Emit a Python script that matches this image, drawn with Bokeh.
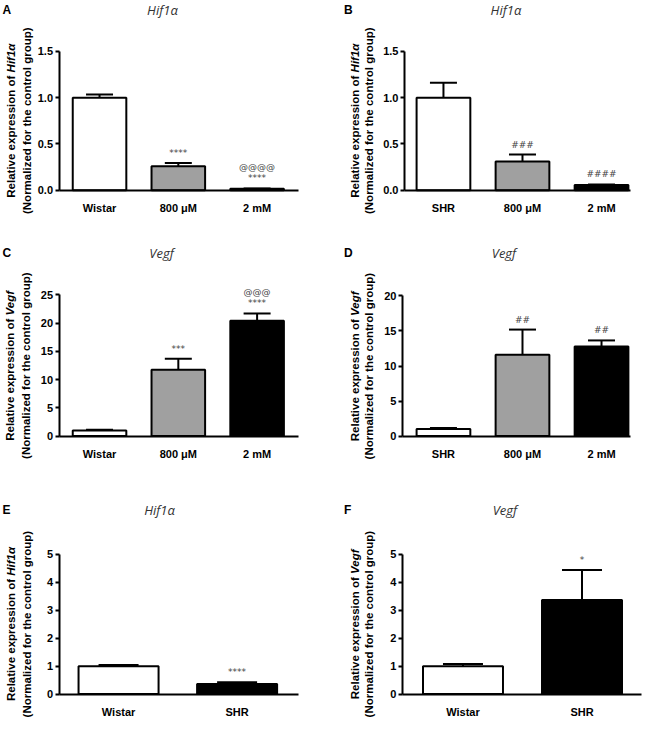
import numpy as np
from bokeh.plotting import figure
from bokeh.layouts import column, row
from bokeh.models import (Range1d, FixedTicker, Label, Whisker, TeeHead,
                          ColumnDataSource, PrintfTickFormatter)
from bokeh.embed import file_html
from bokeh.resources import INLINE

# ---------------- data ----------------
A_categories = ["Wistar", "800 \u03bcM", "2 mM"]
A_means = [1.0, 0.26, 0.015]
A_sems = [0.035, 0.035, 0.004]
A_sig_lower = ["", "****", "****"]
A_sig_upper = ["", "", "@@@@"]
A_ticks = [0.0, 0.5, 1.0, 1.5]

B_categories = ["SHR", "800 \u03bcM", "2 mM"]
B_means = [1.0, 0.31, 0.055]
B_sems = [0.16, 0.075, 0.008]
B_sig_lower = ["", "###", "####"]
B_sig_upper = ["", "", ""]
B_ticks = [0.0, 0.5, 1.0, 1.5]

C_categories = ["Wistar", "800 \u03bcM", "2 mM"]
C_means = [1.0, 11.75, 20.45]
C_sems = [0.12, 1.95, 1.27]
C_sig_lower = ["", "***", "****"]
C_sig_upper = ["", "", "@@@"]
C_ticks = [0, 5, 10, 15, 20, 25]

D_categories = ["SHR", "800 \u03bcM", "2 mM"]
D_means = [1.0, 11.6, 12.8]
D_sems = [0.15, 3.6, 0.85]
D_sig_lower = ["", "##", "##"]
D_sig_upper = ["", "", ""]
D_ticks = [0, 5, 10, 15, 20]

E_categories = ["Wistar", "SHR"]
E_means = [1.0, 0.36]
E_sems = [0.04, 0.06]
E_sig_lower = ["", "****"]
E_sig_upper = ["", ""]
E_ticks = [0, 1, 2, 3, 4, 5]

F_categories = ["Wistar", "SHR"]
F_means = [1.0, 3.37]
F_sems = [0.08, 1.07]
F_sig_lower = ["", "*"]
F_sig_upper = ["", ""]
F_ticks = [0, 1, 2, 3, 4, 5]

three_colors = ["white", "#a0a0a0", "black"]
two_colors = ["white", "black"]

# ---------------- styling / layout ----------------
SX = 642 / 658
SY = 718 / 734
LABEL_FONT = "Liberation Sans"
TITLE_FONT = "Open Sans"
SIG_FONT = "DejaVu Sans"
YL_SIZE = 11.5
# approximate widths (em) of the first y-label line pieces in bold Arial metrics
EM_PREFIX = 10.893
EM_GENE = {"Hif1\u03b1": 2.49, "Vegf": 2.17}


def panel(cats, means, sems, colors, sig_lo, sig_hi, ticks, fmt, ymax,
          bar_w, cap_px, gene, letter, g):
    # g holds layout geometry in reference pixels (local to the panel)
    W = round(g["fw"] * SX)
    H = round(g["fh"] * SY)
    sp, cx0 = g["sp"], g["cx0"]
    x_start = -cx0 / sp
    x_end = (g["fw"] - cx0) / sp
    upp = ymax / (g["fb"] - g["ft"])          # data units per ref pixel
    y_start = -(g["fh"] - g["fb"]) * upp
    y_end = g["fb"] * upp
    ax_left = (g["fl"] - cx0) / sp
    ax_right = (g["fr"] - cx0) / sp

    p = figure(width=W, height=H, output_backend="svg", toolbar_location=None,
               tools="", title=None,
               x_range=Range1d(x_start, x_end), y_range=Range1d(y_start, y_end),
               min_border=0)
    p.outline_line_color = None
    p.xgrid.visible = False
    p.ygrid.visible = False
    p.background_fill_color = "white"
    p.border_fill_color = "white"

    xs = list(range(len(cats)))
    p.vbar(x=xs, top=means, bottom=0, width=bar_w, fill_color=colors,
           line_color="black", line_width=2)

    upper = [m + s for m, s in zip(means, sems)]
    src = ColumnDataSource(dict(x=xs, lower=means, upper=upper))
    p.add_layout(Whisker(base="x", lower="lower", upper="upper", source=src,
                         dimension="height", line_color="black", line_width=2,
                         upper_head=TeeHead(size=cap_px, line_color="black",
                                            line_width=2),
                         lower_head=None))

    for i in xs:
        if sig_lo[i]:
            p.add_layout(Label(x=i, y=upper[i], y_offset=10, text=sig_lo[i],
                               text_align="center", text_baseline="middle",
                               text_font=SIG_FONT, text_font_size="9px",
                               text_color="#444444"))
        if sig_hi[i]:
            p.add_layout(Label(x=i, y=upper[i], y_offset=21, text=sig_hi[i],
                               text_align="center", text_baseline="middle",
                               text_font=SIG_FONT, text_font_size="9px",
                               text_color="#444444"))

    # axes, drawn at fixed data locations with limited extent
    xa = p.xaxis[0]
    xa.fixed_location = 0
    xa.bounds = (ax_left, ax_right)
    xa.ticker = FixedTicker(ticks=xs)
    xa.major_label_overrides = {float(i): c for i, c in enumerate(cats)}
    xa.major_tick_line_color = None
    xa.minor_tick_line_color = None
    xa.axis_line_width = 2
    xa.axis_line_color = "black"
    xa.major_label_standoff = 6
    xa.major_label_text_font = LABEL_FONT
    xa.major_label_text_font_style = "bold"
    xa.major_label_text_font_size = "11px"
    xa.major_label_text_color = "black"

    ya = p.yaxis[0]
    ya.fixed_location = ax_left
    ya.bounds = (0, ymax)
    ya.ticker = FixedTicker(ticks=ticks)
    if fmt:
        ya.formatter = PrintfTickFormatter(format=fmt)
    ya.minor_tick_line_color = None
    ya.major_tick_in = 0
    ya.major_tick_out = 4
    ya.major_tick_line_width = 2
    ya.axis_line_width = 2
    ya.axis_line_color = "black"
    ya.major_label_standoff = 2
    ya.major_label_text_font = LABEL_FONT
    ya.major_label_text_font_style = "bold"
    ya.major_label_text_font_size = "11px"
    ya.major_label_text_color = "black"

    # titles and letters (screen units, frame == whole panel)
    ty = (g["fh"] - g["ty"]) * SY
    p.add_layout(Label(x=g["tx"] * SX, y=ty, x_units="screen",
                       y_units="screen", text=gene, text_align="center",
                       text_baseline="middle", text_font=TITLE_FONT,
                       text_font_style="italic", text_font_size="13px",
                       text_color="#333333"))
    p.add_layout(Label(x=g["lx"] * SX, y=ty, x_units="screen",
                       y_units="screen", text=letter, text_align="left",
                       text_baseline="middle", text_font=LABEL_FONT,
                       text_font_style="bold", text_font_size="12px",
                       text_color="black"))

    # y-axis label (two lines, gene name in italics)
    cy = (g["fh"] - (g["ft"] + g["fb"]) / 2) * SY
    junction = cy + (EM_PREFIX - EM_GENE[gene]) * YL_SIZE / 2
    x1 = g["y1"] * SX
    x2 = g["y2"] * SX
    common = dict(x_units="screen", y_units="screen", angle=np.pi / 2,
                  text_baseline="middle", text_font=LABEL_FONT,
                  text_font_size=f"{YL_SIZE}px", text_color="black")
    p.add_layout(Label(x=x1, y=junction, text="Relative expression of ",
                       text_align="right", text_font_style="bold", **common))
    p.add_layout(Label(x=x1, y=junction, text=gene, text_align="left",
                       text_font_style="bold italic", **common))
    p.add_layout(Label(x=x2, y=cy, text="(Normalized for the control group)",
                       text_align="center", text_font_style="bold", **common))
    return p


HIF = "Hif1\u03b1"
VEGF = "Vegf"

gA = dict(fw=329, fh=226, fl=60, fr=305, ft=52, fb=194, cx0=101.5, sp=80.75,
          tx=166, ty=10, lx=2, y1=11, y2=27)
gB = dict(fw=329, fh=226, fl=85, fr=317, ft=52, fb=194, cx0=125, sp=81,
          tx=189, ty=10, lx=23, y1=34, y2=49)
gC = dict(fw=329, fh=246, fl=60, fr=305, ft=75, fb=219, cx0=101.5, sp=80.75,
          tx=165, ty=32, lx=2, y1=10, y2=26)
gD = dict(fw=329, fh=246, fl=83, fr=317, ft=76, fb=219, cx0=125, sp=81,
          tx=187, ty=32, lx=23, y1=34, y2=49)
gE = dict(fw=329, fh=262, fl=60, fr=305, ft=94, fb=237, cx0=121, sp=121.5,
          tx=163, ty=49, lx=2, y1=11, y2=27)
gF = dict(fw=329, fh=262, fl=83, fr=328, ft=94, fb=237, cx0=145, sp=122,
          tx=188, ty=49, lx=23, y1=34, y2=49)

pA = panel(A_categories, A_means, A_sems, three_colors, A_sig_lower, A_sig_upper,
           A_ticks, "%.1f", 1.5, 0.68, 27, HIF, "A", gA)
pB = panel(B_categories, B_means, B_sems, three_colors, B_sig_lower, B_sig_upper,
           B_ticks, "%.1f", 1.5, 0.68, 27, HIF, "B", gB)
pC = panel(C_categories, C_means, C_sems, three_colors, C_sig_lower, C_sig_upper,
           C_ticks, None, 25, 0.68, 27, VEGF, "C", gC)
pD = panel(D_categories, D_means, D_sems, three_colors, D_sig_lower, D_sig_upper,
           D_ticks, None, 20, 0.68, 27, VEGF, "D", gD)
pE = panel(E_categories, E_means, E_sems, two_colors, E_sig_lower, E_sig_upper,
           E_ticks, None, 5, 0.675, 40, HIF, "E", gE)
pF = panel(F_categories, F_means, F_sems, two_colors, F_sig_lower, F_sig_upper,
           F_ticks, None, 5, 0.672, 40, VEGF, "F", gF)

layout = column(row(pA, pB), row(pC, pD), row(pE, pF))

open("out.html", "w").write(file_html(layout, INLINE, title="Hif1a and Vegf expression"))
